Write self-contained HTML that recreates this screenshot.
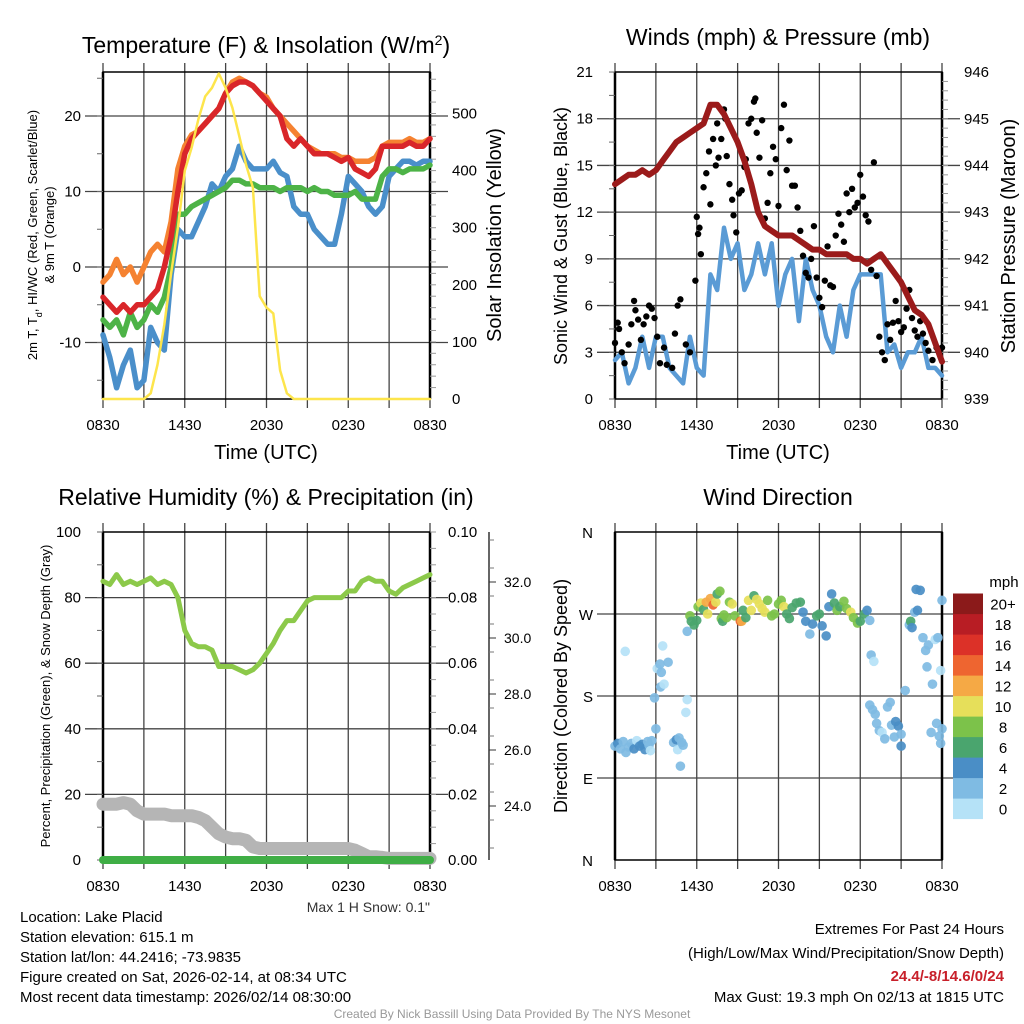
<!DOCTYPE html>
<html><head><meta charset="utf-8">
<style>
html,body{margin:0;padding:0;background:#fff;}
svg{display:block;font-family:"Liberation Sans",sans-serif;}
</style></head>
<body>
<svg id="chart" width="1024" height="1024" viewBox="0 0 1024 1024" xmlns="http://www.w3.org/2000/svg">
<rect width="1024" height="1024" fill="#fff"/>
<g id="layer"></g>
<text x="266" y="53" font-size="23" text-anchor="middle">Temperature (F) &amp; Insolation (W/m<tspan baseline-shift="super" font-size="14">2</tspan>)</text>
<text x="778" y="45" font-size="23" text-anchor="middle">Winds (mph) &amp; Pressure (mb)</text>
<text x="266" y="505" font-size="23" text-anchor="middle">Relative Humidity (%) &amp; Precipitation (in)</text>
<text x="778" y="505" font-size="23" text-anchor="middle">Wind Direction</text>
<text x="266" y="459" font-size="20" text-anchor="middle">Time (UTC)</text>
<text x="778" y="459" font-size="20" text-anchor="middle">Time (UTC)</text>
<text font-size="13" text-anchor="middle" transform="translate(37,235) rotate(-90)">2m T, T<tspan baseline-shift="sub" font-size="9">d</tspan>, HI/WC (Red, Green, Scarlet/Blue)</text>
<text font-size="13" text-anchor="middle" transform="translate(54,235) rotate(-90)">&amp; 9m T (Orange)</text>
<text font-size="20" text-anchor="middle" transform="translate(501,235) rotate(-90)">Solar Insolation (Yellow)</text>
<text font-size="18" text-anchor="middle" transform="translate(567,236) rotate(-90)">Sonic Wind &amp; Gust (Blue, Black)</text>
<text font-size="20" text-anchor="middle" transform="translate(1015,236) rotate(-90)">Station Pressure (Maroon)</text>
<text font-size="13" text-anchor="middle" transform="translate(50,696) rotate(-90)">Percent, Precipitation (Green), &amp; Snow Depth (Gray)</text>
<text font-size="18" text-anchor="middle" transform="translate(567,696) rotate(-90)">Direction (Colored By Speed)</text>
<text x="430" y="912" font-size="14" text-anchor="end" fill="#333">Max 1 H Snow: 0.1"</text>
<g font-size="15">
<text x="20" y="922">Location: Lake Placid</text>
<text x="20" y="942">Station elevation: 615.1 m</text>
<text x="20" y="962">Station lat/lon: 44.2416; -73.9835</text>
<text x="20" y="982">Figure created on Sat, 2026-02-14, at 08:34 UTC</text>
<text x="20" y="1002">Most recent data timestamp: 2026/02/14 08:30:00</text>
</g>
<g font-size="15" text-anchor="end">
<text x="1004" y="934">Extremes For Past 24 Hours</text>
<text x="1004" y="958">(High/Low/Max Wind/Precipitation/Snow Depth)</text>
<text x="1004" y="981" fill="#c8202a" font-weight="bold">24.4/-8/14.6/0/24</text>
<text x="1004" y="1002">Max Gust: 19.3 mph On 02/13 at 1815 UTC</text>
</g>
<text x="512" y="1018" font-size="12" text-anchor="middle" fill="#999">Created By Nick Bassill Using Data Provided By The NYS Mesonet</text>
</svg>
<script>
const xTickLabels=["0830","1430","2030","0230","0830"];
const tHalf=[0,0.5,1,1.5,2,2.5,3,3.5,4,4.5,5,5.5,6,6.5,7,7.5,8,8.5,9,9.5,10,10.5,11,11.5,12,12.5,13,13.5,14,14.5,15,15.5,16,16.5,17,17.5,18,18.5,19,19.5,20,20.5,21,21.5,22,22.5,23,23.5,24];
const tempRed=[-4,-5,-6,-5,-6,-5,-5,-4,-3,0,4,10,15,17,18,19,20,21,23,24,24.5,24.5,24,23,22,21,20,17,16,17,16,15,15,15,14.5,14,14.5,13,12.5,12,13,16,16,16,16,16.5,16,16,17];
const tempOrange=[-2,-1,1,-1,0,-2,0,2,3,2,6,13,16,17.5,18,19,20,21,23,24.5,25,24.5,24,23,22.5,21,20,19,18,17,16,15.5,15,15,15,14.5,14.5,14,14,14,14.5,16,16.5,16.5,16.5,17,16.5,16.5,17];
const dewGreen=[-7,-8,-7,-9,-6,-8,-7,-5,-6,-4,0,7,7,8,8.5,9,9.5,10,10.5,11.5,11.5,11,11,10.5,10.5,10.5,10,10.5,10.5,10.5,10,10.5,10,10,9.5,9.5,9.5,10,9,9,9,12,13,13,12.5,13,13,13,13.5];
const chillBlue=[-9,-12,-16,-13,-11,-16,-15,-8,-10,-11,-1,5,4,4,6,8,11,10,12,13,16,14,13,13,13,14,12.5,12,8,7,7,5,4,3,3,7,12,11,10,8,7,8,12,13,14,14,13.5,14,14];
const solar=[0,0,0,0,0,0,0,10,60,130,220,300,400,440,490,530,545,570,545,510,460,410,370,180,160,150,50,10,0,0,0,0,0,0,0,0,0,0,0,0,0,0,0,0,0,0,0,0,0];
const windBlue=[2.5,3,1,2,4,2,4,4,2,1.5,1,4,2,1.5,8,7,11,9,10,7,8,10,8,10,6,8,9,5,9,7,6,4,3,6,4,7,8,8,8,8,3,3.5,2,3,3,4,2,2,1.5];
const pressure=[943.6,943.7,943.8,943.8,943.9,943.8,943.9,944.1,944.3,944.5,944.6,944.7,944.8,944.9,945.3,945.3,945.1,944.8,944.5,944.1,943.6,943.0,942.7,942.6,942.5,942.5,942.5,942.4,942.3,942.2,942.2,942.1,942.1,942.1,942.1,942.0,942.0,941.9,942.0,942.1,941.9,941.7,941.5,941.2,940.9,940.8,940.6,940.2,939.8];
const gustT=[0,0.2,0.3,0.5,0.7,1,1.2,1.4,1.5,1.7,1.9,2.1,2.3,2.5,2.7,2.9,3.1,3.3,3.6,3.8,4.2,4.4,4.6,4.8,5.2,5.5,5.9,6,6.1,6.2,6.3,6.5,6.7,6.9,7,7.2,7.4,7.5,7.6,7.8,8,8.1,8.2,8.4,8.6,8.7,8.9,9.1,9.3,9.5,9.6,9.8,10,10.2,10.3,10.4,10.6,10.8,11,11.2,11.4,11.6,11.8,12,12.2,12.4,12.6,12.8,13,13.2,13.4,13.6,13.8,14,14.2,14.4,14.6,14.8,15,15.2,15.4,15.6,15.8,16,16.2,16.4,16.6,16.8,17,17.2,17.4,17.6,17.8,18,18.2,18.4,18.6,18.8,19,19.2,19.4,19.6,19.8,20,20.2,20.4,20.6,20.8,21,21.2,21.4,21.6,21.8,22,22.2,22.4,22.6,22.8,23,23.3,23.6,24];
const gustV=[3.6,4.9,4.5,3,2.3,3.5,4.8,6.3,5.7,5.1,3.8,4.8,5.3,6,5.8,5.2,4,2.3,3.3,2.2,2,4.2,6,6.4,3.5,3,7.6,11.7,10.6,11,9.3,13.6,14.5,15.9,12.5,16.7,15,17.7,15.5,16.7,18.6,18,15.6,13.8,12.8,11.8,10.7,13.2,13.4,14.9,15.4,17.7,18,19.1,19.3,17.1,15.5,17.9,11.6,12.6,14.5,16.2,15.4,12.4,17.4,18.9,14.7,16.6,13.7,13.7,12.3,10.8,9.2,8.1,7.8,9,11.1,7.8,6.5,5.9,7.6,9.8,7.3,7.2,10.5,11.9,11.2,10.1,13.2,12,13.5,12.3,12.6,14.4,13,11.8,11.4,8.3,15.2,7.9,4,3,2.5,4.8,3.8,4.9,6.3,5,4.3,4.6,5.8,7,5.2,4.4,4,5,4.2,3.6,3.1,2.5,3.3,3.3];
const rh=[85,84,87,84,85,84,85,86,84,85,84,80,70,66,65,65,64,59,59,59,58,57,58,60,63,66,70,73,73,76,79,80,80,80,80,80,82,82,85,86,85,85,82,81,83,84,85,86,87];
const snowDepth=[17,17,17,17.5,17,15,14,14,14,14,13.5,13.5,13.5,13.5,13,12,10,8,7,6.5,6.5,6,4,3.5,3.5,3.5,3.5,3.5,3.5,3.5,3.5,3.5,3.5,3.5,3.5,3.5,3.5,3,2,1,1,0.8,0.5,0.5,0.5,0.5,0.5,0.5,0.5];
const precip=[0,0,0,0,0,0,0,0,0,0,0,0,0,0,0,0,0,0,0,0,0,0,0,0,0,0,0,0,0,0,0,0,0,0,0,0,0,0,0,0,0,0,0,0,0,0,0,0,0];
const dirT=[0,0.2,0.4,0.6,0.8,1,1.2,1.4,1.6,1.8,2,2.2,2.4,2.5,2.6,0.75,2.7,2.9,3,3.1,3.3,3.4,3.35,3.6,3.5,3.9,4.3,4.5,4.6,4.7,4.9,4.8,5,5.2,5.3,5.3,5.5,5.6,5.8,6,6.1,6.3,6.5,6.7,6.8,7,7.2,7.4,7.5,7.7,7.8,7.9,8,8.2,8.4,8.6,8.8,9.2,9.3,9.6,9.4,9.8,10,10.2,10.4,10.6,10.8,11,11.2,11.5,11.7,12,12.2,12.4,12.6,12.8,13,13.3,13.6,13.8,14,14.3,14.5,14.8,15,15.2,15.5,15.7,15.9,16.1,16.3,16.5,16.8,17,17.3,17.5,17.8,18,18.3,18.5,18.7,18.8,19,18.7,18.9,19.1,19.2,19.4,19.6,19.8,20,20.2,20.3,20.5,20.6,20.8,21,21,21.3,21.6,21.7,21.8,22,22.2,22.4,22.1,22.6,22.8,23,22.9,23.3,23.5,23.7,23.9,24,23.8,23.9,24,23.6,23.2];
const dirDeg=[125,128,122,130,118,124,128,122,131,125,127,121,130,126,120,229,131,178,144,210,215,206,190,193,235,217,129,132,121,134,129,103,126,162,176,251,268,262,258,263,278,282,275,283,270,287,280,283,292,295,265,262,269,266,283,281,268,262,262,266,274,285,274,290,286,281,276,272,285,268,270,281,285,278,270,265,277,282,283,272,262,248,259,268,270,257,246,278,292,282,274,278,284,276,272,266,260,262,270,274,263,225,218,170,165,160,150,142,140,133,168,173,148,135,152,147,138,125,186,258,262,255,272,274,296,297,244,230,236,212,193,242,244,208,285,136,128,144,150,140];
const dirSpeed=[3,4,2,2,2,3,2,4,1,4,4,4,3,2,1,1,2,3,2,1,2,2,3,1,0,2,3,4,1,2,2,3,2,1,0,2,8,6,6,7,8,10,6,12,10,12,14,11,6,8,8,6,8,9,9,10,8,14,12,7,7,10,10,6,10,10,10,10,9,8,9,8,8,10,7,6,6,6,6,4,5,3,4,6,6,4,4,4,4,7,8,7,8,8,10,8,8,7,6,4,2,2,1,2,2,2,2,2,1,2,3,3,2,3,4,4,2,4,2,2,6,4,2,4,4,4,2,2,2,2,2,1,2,1,2,2,2,2,2,3];
const speedColors=["#b5e2f7","#7fbbe3","#4a8ec6","#4aa56e","#7cc24a","#e6df5a","#f5a945","#ee6530","#dc3128","#b81d24","#8b1a1a"];
const speedLabels=["0","2","4","6","8","10","12","14","16","18","20+"];

const NS="http://www.w3.org/2000/svg";
const layer=document.getElementById('layer');
function el(tag,attrs,parent){const e=document.createElementNS(NS,tag);for(const k in attrs)e.setAttribute(k,attrs[k]);(parent||layer).appendChild(e);return e;}
function txt(x,y,s,size,anchor,parent){const t=el('text',{x:x,y:y,'font-size':size,'text-anchor':anchor||'middle'},parent);t.textContent=s;return t;}

function panel(name,x0,x1,y0,y1){
  const g=el('g',{});
  
  
  return {g,x0,x1,y0,y1,sx:h=>x0+(x1-x0)*h/24};
}
function frame(p,hLines,withXLabels){
  const grid=el('g',{stroke:'#444','stroke-width':1.3},p.g);
  
  
  for(let i=0;i<=8;i++){const x=p.sx(i*3);el('line',{x1:x,x2:x,y1:p.y0-9,y2:p.y1+9},grid);}
  hLines.forEach(y=>el('line',{x1:p.x0-18,x2:p.x1+18,y1:y,y2:y},grid));
  const b=el('rect',{x:p.x0,y:p.y0,width:p.x1-p.x0,height:p.y1-p.y0,fill:'none',stroke:'#000','stroke-width':1.5},p.g);
  
  
  el('line',{x1:p.x0,x2:p.x0,y1:p.y0,y2:p.y1,stroke:'#000','stroke-width':2.5},p.g);
  el('line',{x1:p.x1,x2:p.x1,y1:p.y0,y2:p.y1,stroke:'#000','stroke-width':2.5},p.g);
  if(withXLabels){
    const lg=el('g',{},p.g);
    
    
    xTickLabels.forEach((s,i)=>txt(p.sx(i*6),p.y1+31,s,15,'middle',lg));
  }
}
function line(p,vals,sy,color,w,name,tArr){
  const ts=tArr||tHalf;
  const d=vals.map((v,i)=>(i?'L':'M')+p.sx(ts[i]).toFixed(1)+','+sy(v).toFixed(1)).join('');
  const pa=el('path',{d:d,fill:'none',stroke:color,'stroke-width':w,'stroke-linejoin':'round','stroke-linecap':'round'},p.g);
  
  
}

// Panel 1
const p1=panel('temperature-panel',103,430,72,399);
const yT=v=>267-v*7.55, yS=v=>399-v*0.571;
frame(p1,[yT(20),yT(10),yT(0),yT(-10)],true);
[20,10,0,-10].forEach(v=>txt(p1.x0-22,yT(v)+5,String(v),15,'end',p1.g));
[500,400,300,200,100,0].forEach(v=>{txt(p1.x1+22,yS(v)+5,String(v),15,'start',p1.g);});
for(let v=-15;v<=25;v+=5){el('line',{x1:p1.x0-6,x2:p1.x0,y1:yT(v),y2:yT(v),stroke:'#666'},p1.g);}
for(let v=20;v<=560;v+=20){el('line',{x1:p1.x1,x2:p1.x1+6,y1:yS(v),y2:yS(v),stroke:'#999'},p1.g);}
line(p1,chillBlue,yT,'#4a8fca',5.5,'windchill-line');
line(p1,dewGreen,yT,'#4db347',5.5,'dewpoint-line');
line(p1,tempOrange,yT,'#f58231',5.5,'temp-9m-line');
line(p1,tempRed,yT,'#d9262a',5.5,'temp-2m-line');
line(p1,solar,yS,'#fde54c',2.5,'solar-line');

// Panel 2
const p2=panel('wind-panel',615,942,72,399);
const yW=v=>399-v*15.57, yP=v=>399-(v-939)*46.7;
frame(p2,[3,6,9,12,15,18].map(yW),true);
[0,3,6,9,12,15,18,21].forEach(v=>txt(p2.x0-22,yW(v)+5,String(v),15,'end',p2.g));
[939,940,941,942,943,944,945,946].forEach(v=>txt(p2.x1+22,yP(v)+5,String(v),15,'start',p2.g));
for(let v=0;v<=21;v+=1.5){el('line',{x1:p2.x0-6,x2:p2.x0,y1:yW(v),y2:yW(v),stroke:'#666'},p2.g);}
for(let v=939;v<=946;v+=0.2){el('line',{x1:p2.x1,x2:p2.x1+6,y1:yP(v),y2:yP(v),stroke:'#999'},p2.g);}
line(p2,windBlue,yW,'#5a9bd5',4.5,'sonic-wind-line');
const gg=el('g',{fill:'#000'},p2.g);


gustT.forEach((t,i)=>{const c=el('circle',{cx:p2.sx(t),cy:yW(gustV[i]),r:3.2},gg);

});
line(p2,pressure,yP,'#9b1b1b',6,'pressure-line');

// Panel 3
const p3=panel('humidity-panel',103,430,532,860);
const yR=v=>860-v*3.28;
frame(p3,[20,40,60,80].map(yR),true);
[0,20,40,60,80,100].forEach(v=>txt(p3.x0-22,yR(v)+5,String(v),15,'end',p3.g));
['0.00','0.02','0.04','0.06','0.08','0.10'].forEach((s,i)=>txt(p3.x1+18,yR(i*20)+5,s,15,'start',p3.g));
for(let v=0;v<=100;v+=10){el('line',{x1:p3.x0-6,x2:p3.x0,y1:yR(v),y2:yR(v),stroke:'#666'},p3.g);}
for(let v=0;v<=100;v+=5){el('line',{x1:p3.x1,x2:p3.x1+6,y1:yR(v),y2:yR(v),stroke:'#999'},p3.g);}
const snowAxis=el('g',{},p3.g);


el('line',{x1:489,x2:489,y1:532,y2:860,stroke:'#333','stroke-width':1.5},snowAxis);
const ySn=v=>806-(v-24)*28;
['24.0','26.0','28.0','30.0','32.0'].forEach((s,i)=>{const v=24+2*i;el('line',{x1:489,x2:496,y1:ySn(v),y2:ySn(v),stroke:'#333'},snowAxis);txt(504,ySn(v)+5,s,14,'start',snowAxis);});
for(let v=22.5;v<=33.5;v+=1){el('line',{x1:489,x2:494,y1:ySn(v),y2:ySn(v),stroke:'#777'},snowAxis);}
line(p3,snowDepth,yR,'#b5b5b5',13,'snow-depth-line');
line(p3,precip,v=>860-v*3280,'#3fae45',8,'precip-line');
line(p3,rh,yR,'#8cc94a',5,'rh-line');

// Panel 4
const p4=panel('direction-panel',615,942,532,860);
const yD=v=>860-v*328/360;
frame(p4,[90,180,270].map(yD),true);
[['N',360],['W',270],['S',180],['E',90],['N',0]].forEach(a=>txt(p4.x0-22,yD(a[1])+6,a[0],15,'end',p4.g));
const dg=el('g',{},p4.g);


dirT.forEach((t,i)=>{const ci=Math.min(10,Math.floor(dirSpeed[i]/2));
const c=el('circle',{cx:p4.sx(t),cy:yD(dirDeg[i]),r:4.8,fill:speedColors[ci],opacity:0.92},dg);

});
const cb=el('g',{},layer);


txt(1004,587,'mph',15,'middle',cb);
speedColors.forEach((c,i)=>{const y=819-(i+1)*20.5;el('rect',{x:953,y:y,width:30,height:20.6,fill:c},cb);txt(1003,y+16,speedLabels[i],15,'middle',cb);});
</script>
</body></html>
